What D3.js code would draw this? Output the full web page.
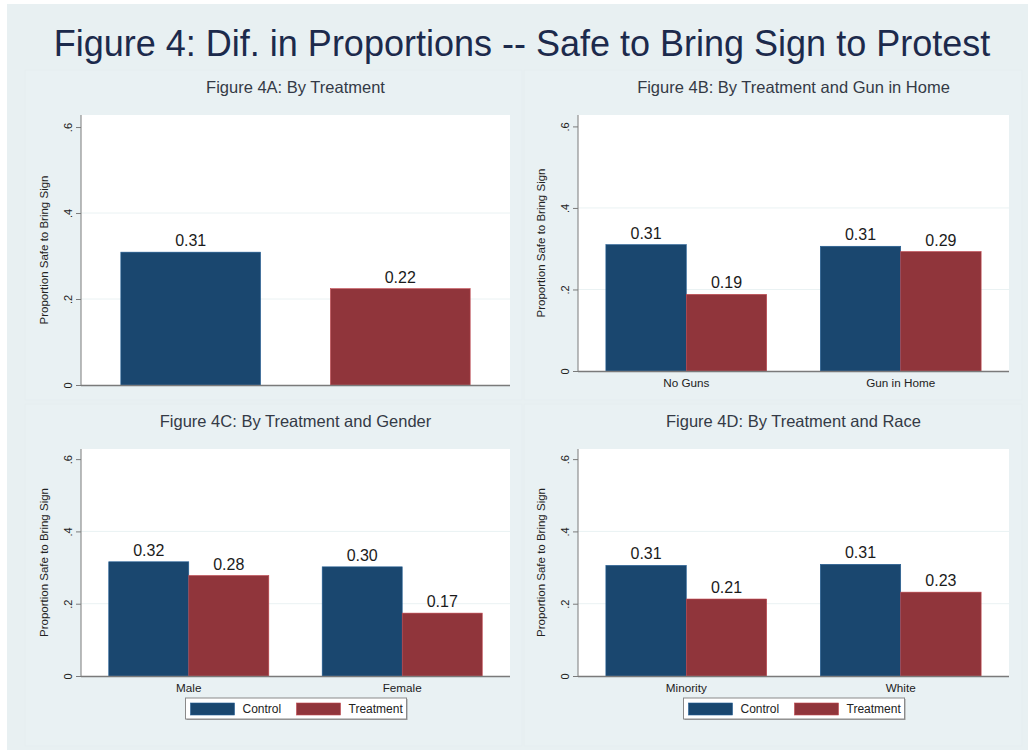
<!DOCTYPE html>
<html>
<head>
<meta charset="utf-8">
<script src="https://d3js.org/d3.v7.min.js"></script>
<style>
body {
  margin: 0;
  background: #fff;
  font-family: "Liberation Sans", Arial, sans-serif;
}
.axis path, .axis line {
  stroke: #7a7a7a;
}
.axis text {
  font: 11px "Liberation Sans", Arial, sans-serif;
  fill: #222;
}
</style>
</head>
<body>
<script>

// values
var seriesNames = ["Control", "Treatment"];
var seriesColors = ["#1a476f", "#90353b"];

var treatValues = [0.309, 0.224];

var gunGroups = ["No Guns", "Gun in Home"];
var gunControl = [0.31, 0.306];
var gunTreatment = [0.188, 0.293];

var genderGroups = ["Male", "Female"];
var genderControl = [0.316, 0.302];
var genderTreatment = [0.278, 0.174];

var raceGroups = ["Minority", "White"];
var raceControl = [0.306, 0.309];
var raceTreatment = [0.213, 0.232];

var yTicks = [0, 0.2, 0.4, 0.6];
var yTickLabels = ["0", ".2", ".4", ".6"];

var W = 1028, H = 750;

var svg = d3.select("body").append("svg")
    .attr("width", W)
    .attr("height", H);

svg.append("rect")
    .attr("x", 7).attr("y", 4)
    .attr("width", W - 7).attr("height", H - 4)
    .attr("fill", "#e8f0f2");

svg.append("text")
    .attr("x", 522)
    .attr("y", 56)
    .attr("text-anchor", "middle")
    .style("font-size", "36px")
    .style("fill", "#1c2a4c")
    .text("Figure 4: Dif. in Proportions -- Safe to Bring Sign to Protest");

var panels = [
  {title: "Figure 4A: By Treatment", x0: 81, x1: 510, top: 115, bottom: 385, grouped: false,
   groups: seriesNames, series: [treatValues], legend: false, catLabels: false, panel: [25, 70, 497, 330]},
  {title: "Figure 4B: By Treatment and Gun in Home", x0: 578, x1: 1009, top: 115, bottom: 371, grouped: true,
   groups: gunGroups, series: [gunControl, gunTreatment], legend: false, catLabels: true, panel: [524, 70, 498, 330]},
  {title: "Figure 4C: By Treatment and Gender", x0: 81, x1: 510, top: 449, bottom: 676, grouped: true,
   groups: genderGroups, series: [genderControl, genderTreatment], legend: true, catLabels: true, panel: [25, 404, 497, 342]},
  {title: "Figure 4D: By Treatment and Race", x0: 578, x1: 1009, top: 449, bottom: 676, grouped: true,
   groups: raceGroups, series: [raceControl, raceTreatment], legend: true, catLabels: true, panel: [524, 404, 498, 342]}
];

panels.forEach(function(p) {

  svg.append("rect")
      .attr("x", p.panel[0]).attr("y", p.panel[1])
      .attr("width", p.panel[2]).attr("height", p.panel[3])
      .attr("fill", "#e9f1f3")
      .attr("stroke", "#e5edf0");

  var cx = (p.x0 + p.x1) / 2;

  svg.append("text")
      .attr("x", cx)
      .attr("y", p.top - 22)
      .attr("text-anchor", "middle")
      .style("font-size", "16.5px")
      .style("fill", "#343a46")
      .text(p.title);

  svg.append("rect")
      .attr("x", p.x0).attr("y", p.top)
      .attr("width", p.x1 - p.x0).attr("height", p.bottom - p.top)
      .attr("fill", "#fff");

  var yScale = d3.scaleLinear()
      .domain([0, 0.628])
      .range([p.bottom, p.top]);

  // grid
  svg.append("g")
    .selectAll("line")
      .data([0.2, 0.4])
    .enter().append("line")
      .attr("x1", p.x0).attr("x2", p.x1)
      .attr("y1", function(d) { return yScale(d); })
      .attr("y2", function(d) { return yScale(d); })
      .attr("stroke", "#eaf2f3")
      .attr("stroke-width", 1);

  var g = svg.append("g");
  var rows = [];

  if (!p.grouped) {
    var xScale = d3.scaleBand()
        .domain(p.groups)
        .range([p.x0, p.x1])
        .paddingInner(1 / 3)
        .paddingOuter(0.19);
    p.series[0].forEach(function(v, i) {
      rows.push({x: xScale(p.groups[i]), w: xScale.bandwidth(), v: v, color: seriesColors[i]});
    });
  } else {
    var xScale = d3.scaleBand()
        .domain(p.groups)
        .range([p.x0, p.x1])
        .paddingInner(0.25)
        .paddingOuter(0.13);
    var xSub = d3.scaleBand()
        .domain(seriesNames)
        .range([0, xScale.bandwidth()]);
    p.groups.forEach(function(grp, i) {
      p.series.forEach(function(vals, j) {
        rows.push({x: xScale(grp) + xSub(seriesNames[j]), w: xSub.bandwidth(), v: vals[i], color: seriesColors[j]});
      });
    });
  }

  g.selectAll("rect")
      .data(rows)
    .enter().append("rect")
      .attr("x", function(d) { return d.x; })
      .attr("y", function(d) { return yScale(d.v); })
      .attr("width", function(d) { return d.w; })
      .attr("height", function(d) { return p.bottom - yScale(d.v); })
      .attr("fill", function(d) { return d.color; })
      .attr("stroke", function(d) { return d3.color(d.color).brighter(0.8); })
      .attr("stroke-width", 0.6);

  g.selectAll("text")
      .data(rows)
    .enter().append("text")
      .attr("x", function(d) { return d.x + d.w / 2; })
      .attr("y", function(d) { return yScale(d.v) - 6; })
      .attr("text-anchor", "middle")
      .style("font-size", "16px")
      .style("fill", "#1b1b1b")
      .text(function(d) { return d.v.toFixed(2); });

  // y axis
  var yAxis = svg.append("g")
      .attr("class", "axis")
      .attr("transform", "translate(" + p.x0 + ",0)")
      .call(d3.axisLeft(yScale)
        .tickValues(yTicks)
        .tickSize(5)
        .tickSizeOuter(0)
        .tickFormat(function(d, i) { return yTickLabels[i]; }));

  yAxis.select(".domain").remove();
  yAxis.append("line")
      .attr("x1", 0).attr("x2", 0)
      .attr("y1", p.top).attr("y2", p.bottom)
      .attr("stroke", "#7a7a7a");

  yAxis.selectAll(".tick text")
      .attr("transform", "rotate(-90)")
      .attr("x", 0)
      .attr("y", -9)
      .attr("dy", 0)
      .attr("text-anchor", "middle");

  svg.append("line")
      .attr("x1", p.x0).attr("x2", p.x1)
      .attr("y1", p.bottom + 0.5).attr("y2", p.bottom + 0.5)
      .attr("stroke", "#7a7a7a")
      .attr("stroke-width", 1.5);

  svg.append("text")
      .attr("transform", "translate(" + (p.x0 - 33) + "," + ((p.top + p.bottom) / 2) + ") rotate(-90)")
      .attr("text-anchor", "middle")
      .style("font-size", "11.5px")
      .style("fill", "#222")
      .text("Proportion Safe to Bring Sign");

  if (p.catLabels) {
    svg.append("g")
      .selectAll("text")
        .data(p.groups)
      .enter().append("text")
        .attr("x", function(d) { return xScale(d) + xScale.bandwidth() / 2; })
        .attr("y", p.bottom + 16)
        .attr("text-anchor", "middle")
        .style("font-size", "11.7px")
        .style("fill", "#222")
        .text(function(d) { return d; });
  }

  if (p.legend) {
    var lg = svg.append("g")
        .attr("transform", "translate(" + (cx - 110) + "," + (p.bottom + 22) + ")");
    lg.append("rect")
        .attr("x", 1).attr("y", 1)
        .attr("width", 221).attr("height", 21)
        .attr("fill", "#9a9a9a");
    lg.append("rect")
        .attr("width", 221).attr("height", 21)
        .attr("fill", "#fff")
        .attr("stroke", "#8a8a8a");
    var items = lg.selectAll(".item")
        .data(seriesNames)
      .enter().append("g")
        .attr("transform", function(d, i) { return "translate(" + (5 + i * 106) + ",0)"; });
    items.append("rect")
        .attr("y", 5)
        .attr("width", 44).attr("height", 12)
        .attr("fill", function(d, i) { return seriesColors[i]; })
        .attr("stroke", function(d, i) { return d3.color(seriesColors[i]).brighter(0.8); })
        .attr("stroke-width", 0.6);
    items.append("text")
        .attr("x", 52)
        .attr("y", 15)
        .style("font-size", "12px")
        .style("fill", "#222")
        .text(function(d) { return d; });
  }
});

</script>
</body>
</html>
